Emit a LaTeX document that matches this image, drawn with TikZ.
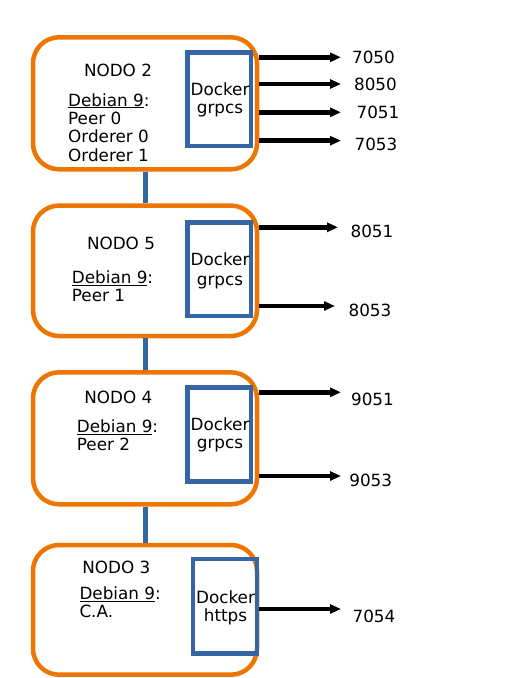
\documentclass[tikz,border=0pt]{standalone}
\usepackage{fontspec}
\setmainfont{DejaVu Sans}
\usetikzlibrary{arrows.meta}
\definecolor{orng}{RGB}{237,118,0}
\definecolor{blu}{RGB}{52,101,164}
\begin{document}
\begin{tikzpicture}[x=1pt,y=-1pt,
  host/.style={draw=orng,line width=4.5pt,rounded corners=26pt,minimum width=224pt,inner sep=0pt},
  dock/.style={draw=blu,line width=4.5pt,inner sep=0pt},
  link/.style={draw=blu,line width=5pt},
  port/.style={line width=4.5pt,-{Triangle[length=11pt,width=9pt]}},
  txt/.style={font=\fontsize{16.8}{18.4}\selectfont,inner sep=0pt,anchor=base},
  txtl/.style={txt,anchor=base west}]
\useasboundingbox (0,0) rectangle (524,678);
% hosts
\node[host,minimum height=132pt] (n2) at (145,103.3) {};
\node[host,minimum height=130.4pt] (n5) at (145,270.8) {};
\node[host,minimum height=132pt] (n4) at (145,438.3) {};
\node[host,minimum height=129.7pt] (n3) at (145,609.85) {};
% docker boxes
\node[dock,minimum width=63.7pt,minimum height=93.7pt] (d2) at (219.15,99.15) {};
\node[dock,minimum width=63.7pt,minimum height=93.7pt] (d5) at (219.15,269.15) {};
\node[dock,minimum width=63.7pt,minimum height=94.4pt] (d4) at (219.15,434.5) {};
\node[dock,minimum width=64pt,minimum height=94.5pt] (d3) at (225,606.25) {};
% links
\draw[link] (n2.south) -- (n5.north);
\draw[link] (n5.south) -- (n4.north);
\draw[link] (n4.south) -- (n3.north);
% node 2 text
\node[txt] (t2) at (118,76) {NODO 2};
\node[txtl] (t2a) at (68,106) {\underline{Debian 9}:};
\node[txtl] (t2b) at (68,124.3) {Peer 0};
\node[txtl] (t2c) at (68,142.7) {Orderer 0};
\node[txtl] (t2d) at (68,161.7) {Orderer 1};
\node[txt] (k2a) at (220,95) {Docker};
\node[txt] (k2b) at (220,113) {grpcs};
% node 5 text
\node[txt] (t5) at (121,249.3) {NODO 5};
\node[txtl] (t5a) at (71.7,283.3) {\underline{Debian 9}:};
\node[txtl] (t5b) at (71.7,301.7) {Peer 1};
\node[txt] (k5a) at (220,265) {Docker};
\node[txt] (k5b) at (220,285) {grpcs};
% node 4 text
\node[txt] (t4) at (118.3,403.3) {NODO 4};
\node[txtl] (t4a) at (76.7,432.3) {\underline{Debian 9}:};
\node[txtl] (t4b) at (76.7,450.7) {Peer 2};
\node[txt] (k4a) at (220,430) {Docker};
\node[txt] (k4b) at (220,448.3) {grpcs};
% node 3 text
\node[txt] (t3) at (116.3,573.3) {NODO 3};
\node[txtl] (t3a) at (79.3,599.3) {\underline{Debian 9}:};
\node[txtl] (t3b) at (79.3,617.7) {C.A.};
\node[txt] (k3a) at (225.5,603.3) {Docker};
\node[txt] (k3b) at (225.5,621.7) {https};
% port arrows
\coordinate (e1) at (341,57.3);
\coordinate (e2) at (341,84);
\coordinate (e3) at (341,112.3);
\coordinate (e4) at (341,140.7);
\coordinate (e5) at (338,227.3);
\coordinate (e6) at (335,306);
\coordinate (e7) at (341,392.3);
\coordinate (e8) at (341,476);
\coordinate (e9) at (341,609);
\draw[port] (n2.east |- e1) -- (e1);
\draw[port] (n2.east |- e2) -- (e2);
\draw[port] (n2.east |- e3) -- (e3);
\draw[port] (n2.east |- e4) -- (e4);
\draw[port] (n5.east |- e5) -- (e5);
\draw[port] (n5.east |- e6) -- (e6);
\draw[port] (n4.east |- e7) -- (e7);
\draw[port] (n4.east |- e8) -- (e8);
\draw[port] (n3.east |- e9) -- (e9);
% port labels
\node[txt] (l1) at (373.5,63.3) {7050};
\node[txt] (l2) at (375.5,90) {8050};
\node[txt] (l3) at (378,118.3) {7051};
\node[txt] (l4) at (376,150.7) {7053};
\node[txt] (l5) at (372,237.7) {8051};
\node[txt] (l6) at (370,316.7) {8053};
\node[txt] (l7) at (372.5,405.7) {9051};
\node[txt] (l8) at (370.7,486.7) {9053};
\node[txt] (l9) at (374,622.7) {7054};
\end{tikzpicture}
\end{document}
